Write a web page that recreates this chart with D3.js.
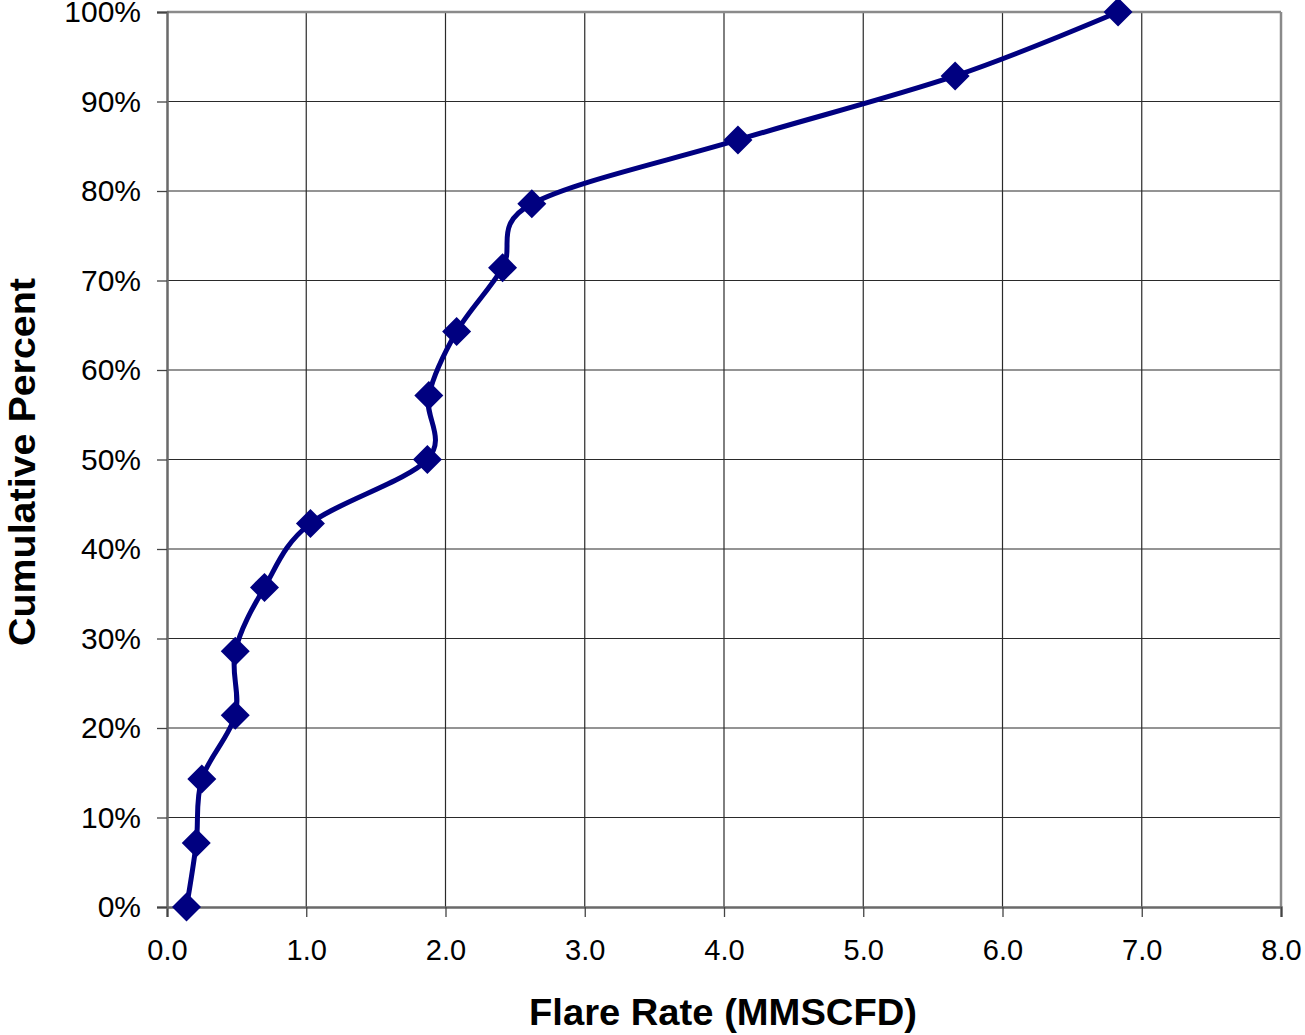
<!DOCTYPE html>
<html>
<head>
<meta charset="utf-8">
<script src="https://cdn.jsdelivr.net/npm/d3@7"></script>
<style>
  html, body { margin: 0; padding: 0; background: #fff; }
  svg { display: block; }
  text { font-family: "Liberation Sans", Arial, sans-serif; fill: #000; }
</style>
</head>
<body>
<svg id="chart" width="1305" height="1035"></svg>
<script>
// ---- data ----
const flareRate = [0.14, 0.21, 0.25, 0.49, 0.49, 0.70, 1.03, 1.87, 1.88, 2.08, 2.41, 2.62, 4.10, 5.66, 6.83];
const cumulativePct = [0, 7.14, 14.29, 21.43, 28.57, 35.71, 42.86, 50.0, 57.14, 64.29, 71.43, 78.57, 85.71, 92.86, 100];
const xTicks = [0, 1, 2, 3, 4, 5, 6, 7, 8];
const yTicks = [0, 10, 20, 30, 40, 50, 60, 70, 80, 90, 100];
const xTitle = "Flare Rate (MMSCFD)";
const yTitle = "Cumulative Percent";

const svg = d3.select("#chart");
const m = { left: 167, right: 1281, top: 12, bottom: 907 };

const x = d3.scaleLinear().domain([0, 8]).range([m.left, m.right]);
const y = d3.scaleLinear().domain([0, 100]).range([m.bottom, m.top]);

// gridlines
const grid = svg.append("g");
grid.selectAll("line.v").data(xTicks.slice(1, -1)).enter().append("line")
  .attr("x1", d => x(d)).attr("x2", d => x(d))
  .attr("y1", m.top).attr("y2", m.bottom)
  .attr("stroke", "#2a2a2a").attr("stroke-width", 1.2);
grid.selectAll("line.h").data(yTicks.slice(1, -1)).enter().append("line")
  .attr("x1", m.left).attr("x2", m.right)
  .attr("y1", d => y(d)).attr("y2", d => y(d))
  .attr("stroke", "#2a2a2a").attr("stroke-width", 1.2);

// plot border (top/right)
svg.append("line").attr("x1", m.left).attr("x2", m.right).attr("y1", m.top).attr("y2", m.top)
  .attr("stroke", "#8a8a8a").attr("stroke-width", 2.5);
svg.append("line").attr("x1", m.right).attr("x2", m.right).attr("y1", m.top).attr("y2", m.bottom)
  .attr("stroke", "#8a8a8a").attr("stroke-width", 2.5);

// axes
const xAxis = d3.axisBottom(x).tickValues(xTicks).tickFormat(d3.format(".1f")).tickSize(10).tickPadding(22);
const yAxis = d3.axisLeft(y).tickValues(yTicks).tickFormat(d => d + "%").tickSize(10).tickPadding(16);

const gx = svg.append("g").attr("transform", `translate(0,${m.bottom})`).call(xAxis);
const gy = svg.append("g").attr("transform", `translate(${m.left},0)`).call(yAxis);
[gx, gy].forEach(g => {
  g.select(".domain").attr("stroke", "#6a6a6a").attr("stroke-width", 2.5);
  g.selectAll(".tick line").attr("stroke", "#444").attr("stroke-width", 1.3);
  g.selectAll(".tick text").attr("fill", "#000")
    .style("font-family", "'Liberation Sans', Arial, sans-serif");
});
gx.selectAll(".tick text").attr("font-size", 29);
gy.selectAll(".tick text").attr("font-size", 30);

// line
const pts = flareRate.map((v, i) => [v, cumulativePct[i]]);
svg.append("path")
  .datum(pts)
  .attr("fill", "none")
  .attr("stroke", "#000080")
  .attr("stroke-width", 5)
  .attr("stroke-linejoin", "round")
  .attr("d", d3.line().x(d => x(d[0])).y(d => y(d[1])).curve(d3.curveCardinal.tension(0)));

// markers
svg.append("g").selectAll("path").data(pts).enter().append("path")
  .attr("transform", d => `translate(${x(d[0])},${y(d[1])})`)
  .attr("d", "M0,-14.5L14.5,0L0,14.5L-14.5,0Z")
  .attr("fill", "#000080");

// titles
svg.append("text")
  .attr("x", 723).attr("y", 1025)
  .attr("text-anchor", "middle")
  .attr("font-size", 36).attr("font-weight", "bold")
  .attr("textLength", 388).attr("lengthAdjust", "spacingAndGlyphs")
  .text(xTitle);
svg.append("text")
  .attr("transform", `translate(35,462) rotate(-90)`)
  .attr("text-anchor", "middle")
  .attr("font-size", 37).attr("font-weight", "bold")
  .attr("textLength", 368).attr("lengthAdjust", "spacingAndGlyphs")
  .text(yTitle);
</script>
</body>
</html>
